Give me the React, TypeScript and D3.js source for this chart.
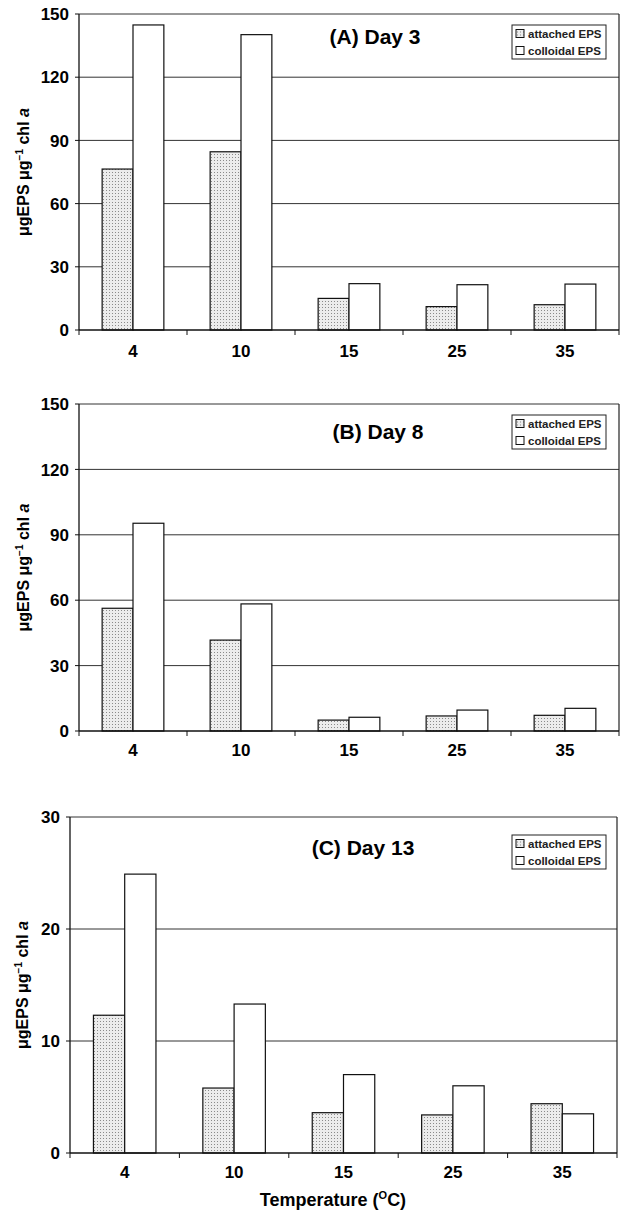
import React from "react";
import * as d3 from "d3";

// temperature categories (°C)
const categories = ["4", "10", "15", "25", "35"];

// (A) Day 3
const attachedA = [76.4, 84.6, 15.0, 11.1, 12.0];
const colloidalA = [144.8, 140.2, 22.0, 21.5, 21.8];
// (B) Day 8
const attachedB = [56.3, 41.7, 5.0, 6.9, 7.2];
const colloidalB = [95.3, 58.3, 6.3, 9.6, 10.4];
// (C) Day 13
const attachedC = [12.3, 5.8, 3.6, 3.4, 4.4];
const colloidalC = [24.9, 13.3, 7.0, 6.0, 3.5];

const ticksAB = [0, 30, 60, 90, 120, 150];
const ticksC = [0, 10, 20, 30];

const seriesNames = ["attached EPS", "colloidal EPS"];

const font = "'Liberation Sans', Arial, sans-serif";

const panels = [
  {
    title: "(A) Day 3", attached: attachedA, colloidal: colloidalA, ticks: ticksAB,
    left: 79, right: 619, top: 14, bottom: 330, titleX: 375, titleY: 44,
    legX: 512, legY: 25, xLabelY: 357, yLabelX: 23,
  },
  {
    title: "(B) Day 8", attached: attachedB, colloidal: colloidalB, ticks: ticksAB,
    left: 79, right: 619, top: 404, bottom: 731, titleX: 378, titleY: 439,
    legX: 512, legY: 415, xLabelY: 756, yLabelX: 23,
  },
  {
    title: "(C) Day 13", attached: attachedC, colloidal: colloidalC, ticks: ticksC,
    left: 70, right: 617, top: 817, bottom: 1153, titleX: 363, titleY: 855,
    legX: 512, legY: 835, xLabelY: 1178, yLabelX: 22,
  },
];

const Panel = ({ p }) => {
  const x = d3.scaleBand().domain(categories).range([p.left, p.right]).padding(0);
  const inner = d3.scaleBand().domain(seriesNames).range([0, x.bandwidth()])
    .paddingInner(0).paddingOuter(0.75);
  const y = d3.scaleLinear().domain([0, d3.max(p.ticks)]).range([p.bottom, p.top]);
  const yMid = (p.top + p.bottom) / 2;

  const rows = categories.map((c, i) => ({ c, vals: [p.attached[i], p.colloidal[i]] }));

  return (
    <g>
      {/* gridlines */}
      {p.ticks.slice(1).map(t => (
        <line key={t} x1={p.left} x2={p.right} y1={y(t)} y2={y(t)} stroke="#333" strokeWidth={1} />
      ))}
      {/* plot area frame (top/right) */}
      <line x1={p.right} x2={p.right} y1={p.top} y2={p.bottom} stroke="#222" strokeWidth={1.2} />

      {/* bars */}
      {rows.map(r => r.vals.map((v, j) => (
        <rect key={r.c + j}
          x={x(r.c) + inner(seriesNames[j])}
          y={y(v)}
          width={inner.bandwidth()}
          height={y(0) - y(v)}
          fill={j === 0 ? "url(#dots)" : "#fff"}
          stroke="#111" strokeWidth={1.2} />
      )))}

      {/* axes */}
      <line x1={p.left} x2={p.left} y1={p.top} y2={p.bottom} stroke="#111" strokeWidth={1.3} />
      <line x1={p.left} x2={p.right} y1={p.bottom} y2={p.bottom} stroke="#111" strokeWidth={1.3} />
      {p.ticks.map(t => (
        <g key={t}>
          <line x1={p.left - 4} x2={p.left} y1={y(t)} y2={y(t)} stroke="#111" />
          <text x={p.left - 10} y={y(t)} dy="0.36em" textAnchor="end"
            fontFamily={font} fontWeight="bold" fontSize={17}>{t}</text>
        </g>
      ))}
      {categories.map((c, i) => (
        <g key={c}>
          <line x1={x(c) + (i === 0 ? 0 : 0)} x2={x(c)} y1={p.bottom} y2={p.bottom + 5} stroke="#111" />
          <text x={x(c) + x.bandwidth() / 2} y={p.xLabelY} textAnchor="middle"
            fontFamily={font} fontWeight="bold" fontSize={17}>{c}</text>
        </g>
      ))}
      <line x1={p.right} x2={p.right} y1={p.bottom} y2={p.bottom + 5} stroke="#111" />

      {/* y label */}
      <text transform={`translate(${p.yLabelX + 6},${yMid}) rotate(-90)`} textAnchor="middle"
        fontFamily={font} fontWeight="bold" fontSize={16}>
        μgEPS μg<tspan fontSize={10} dy={-6}>−1</tspan><tspan dy={6}> chl </tspan>
        <tspan fontStyle="italic">a</tspan>
      </text>

      {/* title */}
      <text x={p.titleX} y={p.titleY} textAnchor="middle" fontFamily={font}
        fontWeight="bold" fontSize={21}>{p.title}</text>

      {/* legend */}
      <rect x={p.legX} y={p.legY} width={94} height={34} fill="#fff" stroke="#222" strokeWidth={1} />
      {seriesNames.map((s, j) => (
        <g key={s} transform={`translate(${p.legX + 4},${p.legY + 8.5 + j * 17})`}>
          <rect x={0} y={-4} width={8} height={8} fill={j === 0 ? "url(#dots)" : "#fff"}
            stroke="#111" strokeWidth={1} />
          <text x={12} y={0} dy="0.36em" fontFamily={font} fontWeight="bold" fontSize={11.5}
            fill="#222">{s}</text>
        </g>
      ))}
    </g>
  );
};

export default function App() {
  return (
    <svg width={621} height={1212} style={{ position: "absolute", left: 0, top: 0, background: "#fff" }}>
      <defs>
        <pattern id="dots" width={3} height={3} patternUnits="userSpaceOnUse">
          <rect width={3} height={3} fill="#ececec" />
          <rect x={1} y={1} width={1} height={1} fill="#8a8a8a" />
        </pattern>
      </defs>
      <rect width={621} height={1212} fill="#fff" />
      {panels.map(p => <Panel key={p.title} p={p} />)}
      <text x={333} y={1206} textAnchor="middle" fontFamily={font} fontWeight="bold" fontSize={18}>
        Temperature (<tspan fontSize={11} dy={-7}>O</tspan><tspan dy={7}>C)</tspan>
      </text>
    </svg>
  );
}
